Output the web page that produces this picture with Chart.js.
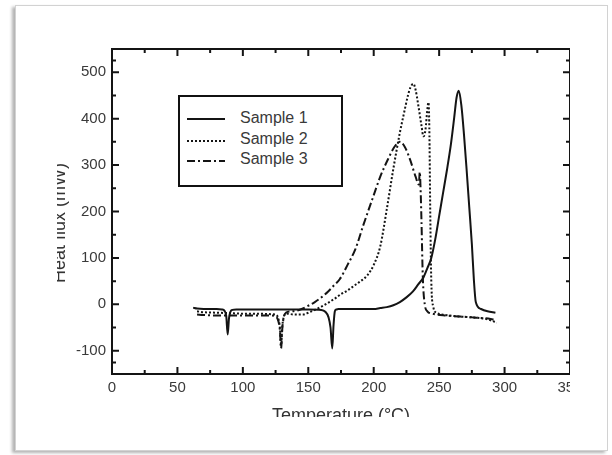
<!DOCTYPE html>
<html>
<head>
<meta charset="utf-8">
<script src="https://cdn.jsdelivr.net/npm/chart.js@4.4.1/dist/chart.umd.min.js"></script>
<style>
  html, body { margin: 0; padding: 0; background: #fff; }
  body { width: 612px; height: 455px; position: relative; overflow: hidden;
         font-family: "Liberation Sans", Arial, sans-serif; }
  #frame { position: absolute; left: 15px; top: 5px; width: 593px; height: 446px;
           box-sizing: border-box; border: 1px solid #d2d2d2; background: #fff;
           box-shadow: -3px 2px 3px rgba(0,0,0,0.3); }
  #clip { position: absolute; left: 0; top: 0; width: 612px; height: 455px;
          clip-path: inset(8px 42px 38px 57px); }
  #chart { position: absolute; left: 0; top: 0; }
  .axis-title { position: absolute; font-size: 18px; line-height: 18px; color: #333;
                white-space: nowrap; transform: translate(-50%, -50%); }
  #ytitle { left: 58.8px; top: 223px; transform: translate(-50%, -50%) rotate(-90deg); }
  #xtitle { left: 341px; top: 415px; }
  #legend { position: absolute; left: 178px; top: 95px; width: 165px; height: 92px;
            box-sizing: border-box; border: 2px solid #111; background: #fff; }
  #legend svg { position: absolute; left: 7px; }
  #legend span { position: absolute; left: 60px; font-size: 16px; line-height: 20px; color: #3a3a3a; }
</style>
</head>
<body>
<div id="frame"></div>
<div id="clip">
  <canvas id="chart" width="612" height="455"></canvas>
  <div class="axis-title" id="ytitle">Heat flux (mW)</div>
  <div class="axis-title" id="xtitle">Temperature (°C)</div>
  <div id="legend"></div>
</div>
<script>
// ==============================
//  DATA
// ==============================
const X_TICKS = [0, 50, 100, 150, 200, 250, 300, 350];
const Y_TICKS = [-100, 0, 100, 200, 300, 400, 500];
const LABELS  = ['Sample 1', 'Sample 2', 'Sample 3'];

// Sample 1 (solid)
const T1 = [62, 65, 70, 75, 80, 84, 86, 87.3, 88.4, 89.4, 90.5, 92, 95, 100, 110, 120, 130, 140, 150,
            160, 163, 165.5, 167, 168.3, 169.3, 170.3, 171.5, 173, 180, 190, 200, 205, 210, 215,
            220, 225, 230, 234, 238, 241, 244, 247, 250, 253, 256, 259, 261.5, 263.3, 265, 267, 269,
            271, 273, 275, 276.5, 278, 282, 287, 293];
const H1 = [-7, -9, -10, -10, -10, -11, -14, -25, -65, -30, -16, -12, -11, -11, -11, -11, -11, -11, -11,
            -12, -16, -28, -50, -95, -45, -15, -11, -10, -10, -10, -10, -8, -6, -2, 5,
            15, 28, 43, 58, 78, 100, 140, 190, 240, 290, 345, 402, 445, 460, 428, 365, 290,
            210, 130, 55, 5, -10, -15, -18, -22];

// Sample 2 (dotted)
const T2 = [65, 70, 80, 90, 100, 110, 120, 125, 127, 128.3, 129.2, 130.2, 131.5, 133, 140, 146, 150, 155,
            160, 165, 170, 175, 180, 185, 190, 195, 200, 205, 210, 215, 220, 223, 226, 228, 230.3,
            232, 234, 236.5, 238, 239.5, 241, 241.8, 242.5, 243.2, 244, 245.5, 248, 255, 265, 275,
            285, 290, 294];
const H2 = [-15, -17, -18, -19, -20, -20, -21, -22, -30, -50, -88, -45, -25, -20, -22, -22, -18, -12,
            -5, 3, 12, 22, 30, 40, 50, 62, 85, 125, 205, 292, 370, 410, 448, 467, 475,
            462, 430, 385, 362, 375, 420, 435, 380, 200, 50, -5, -18, -23, -26, -28,
            -31, -35, -40];

// Sample 3 (dash-dot)
const T3 = [65, 70, 80, 90, 100, 110, 120, 125, 127, 128.3, 129.2, 130.2, 131.5, 133, 138, 143, 150, 155,
            160, 165, 170, 174, 180, 186, 192, 199, 205, 211, 216, 220, 224, 228, 232, 234.5, 235.2,
            235.8, 236.5, 237.5, 239, 241, 245, 255, 265, 275, 285, 293];
const H3 = [-22, -23, -24, -24, -24, -24, -24, -26, -35, -55, -95, -50, -25, -18, -15, -12, -3, 5,
            15, 27, 42, 54, 85, 119, 170, 227, 275, 313, 340, 350, 338, 310, 275, 258, 285,
            250, 180, 60, 0, -15, -20, -24, -26, -28, -30, -33];

const DASHES = [[], [2, 2], [8, 3, 2, 3]];
const INK = '#141414';
const FONT = '"Liberation Sans", Arial, sans-serif';

// ==============================
//  LEGEND (html)
// ==============================
const legendRows = [
  { textTop: 10.7, lineY: 22.3 },
  { textTop: 32.2, lineY: 44 },
  { textTop: 52.2, lineY: 64 },
];
document.getElementById('legend').innerHTML = LABELS.map((lab, i) => `
  <svg width="40" height="6" style="top:${legendRows[i].lineY - 3}px">
    <line x1="0" y1="3" x2="38" y2="3" stroke="${INK}" stroke-width="2.2"
          stroke-dasharray="${DASHES[i].join(' ') || 'none'}"/>
  </svg>
  <span style="top:${legendRows[i].textTop}px">${lab}</span>
`).join('');

// ==============================
//  FRAME + INWARD TICKS
// ==============================
const frameTicks = {
  id: 'frameTicks',
  afterDatasetsDraw(chart) {
    const { ctx, chartArea: a, scales: { x, y } } = chart;
    const mids = arr => arr.slice(0, -1).map((v, i) => (v + arr[i + 1]) / 2);
    ctx.save();
    ctx.strokeStyle = INK;
    ctx.lineWidth = 2;
    ctx.strokeRect(a.left, a.top, a.right - a.left, a.bottom - a.top);

    const xt = X_TICKS.map(v => [v, 7]).concat(mids(X_TICKS).map(v => [v, 4]));
    xt.forEach(([v, len]) => {
      const px = x.getPixelForValue(v);
      ctx.beginPath();
      ctx.moveTo(px, a.bottom); ctx.lineTo(px, a.bottom - len);
      ctx.moveTo(px, a.top);    ctx.lineTo(px, a.top + len);
      ctx.stroke();
    });

    const ys = [-150].concat(Y_TICKS, [550]);
    const yt = Y_TICKS.map(v => [v, 7]).concat(mids(ys).map(v => [v, 4]));
    yt.forEach(([v, len]) => {
      const py = y.getPixelForValue(v);
      ctx.beginPath();
      ctx.moveTo(a.left, py);  ctx.lineTo(a.left + len, py);
      ctx.moveTo(a.right, py); ctx.lineTo(a.right - len, py);
      ctx.stroke();
    });
    ctx.restore();
  }
};

// ==============================
//  CHART
// ==============================
function series(T, H, i) {
  return {
    label: LABELS[i],
    data: T.map((t, k) => ({ x: t, y: H[k] })),
    borderColor: INK,
    borderWidth: 2,
    borderDash: DASHES[i],
    pointRadius: 0,
    fill: false,
    cubicInterpolationMode: 'monotone',
  };
}

new Chart(document.getElementById('chart'), {
  type: 'line',
  data: { datasets: [series(T1, H1, 0), series(T2, H2, 1), series(T3, H3, 2)] },
  options: {
    responsive: false,
    animation: false,
    layout: { padding: { top: 49, right: 42, left: 0, bottom: 0 } },
    plugins: { legend: { display: false }, tooltip: { enabled: false } },
    scales: {
      x: {
        type: 'linear', min: 0, max: 350,
        grid: { display: false, drawTicks: false },
        border: { display: false },
        afterBuildTicks: s => { s.ticks = X_TICKS.map(v => ({ value: v })); },
        afterFit: s => { s.height = 81; },
        ticks: { padding: 5, autoSkip: false, maxRotation: 0, color: '#3a3a3a', font: { family: FONT, size: 15 } }
      },
      y: {
        type: 'linear', min: -150, max: 550,
        grid: { display: false, drawTicks: false },
        border: { display: false },
        afterBuildTicks: s => { s.ticks = Y_TICKS.map(v => ({ value: v })); },
        afterFit: s => { s.width = 112; },
        ticks: { padding: 6, autoSkip: false, color: '#3a3a3a', font: { family: FONT, size: 15 } }
      }
    }
  },
  plugins: [frameTicks]
});
</script>
</body>
</html>
